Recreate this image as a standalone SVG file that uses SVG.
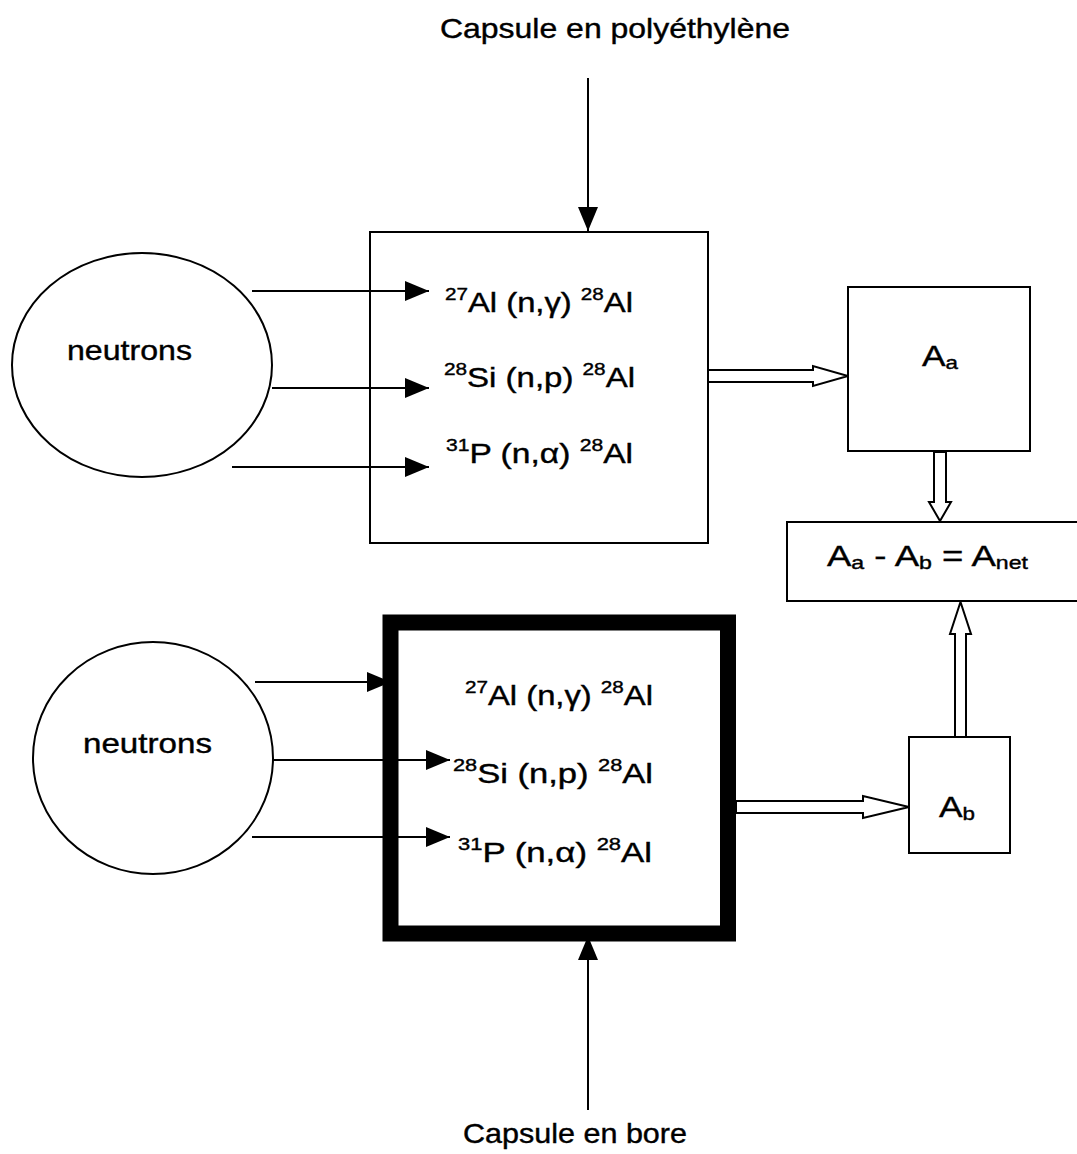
<svg xmlns="http://www.w3.org/2000/svg" width="1077" height="1154" viewBox="0 0 1077 1154">
<style>
text{font-family:"Liberation Sans",Arial,sans-serif;fill:#000;stroke:#000;stroke-width:0.4}
.t{font-size:28px}
.rx{font-size:27px}
.sup{font-size:17px}
.sub{font-size:19px}
.big{font-size:30px}
.box{fill:#fff;stroke:#000;stroke-width:2}
.thick{fill:#fff;stroke:#000;stroke-width:16}
.ell{fill:#fff;stroke:#000;stroke-width:2}
.ln{fill:none;stroke:#000;stroke-width:2;marker-end:url(#ah)}
.hol{fill:#fff;stroke:#000;stroke-width:2;stroke-linejoin:miter}
</style>
<defs>
<marker id="ah" markerUnits="userSpaceOnUse" markerWidth="24" markerHeight="20" refX="24" refY="10" orient="auto">
<path d="M0,0 L24,10 L0,20 z" fill="#000"/>
</marker>
</defs>
<rect width="1077" height="1154" fill="#fff"/>

<g id="title-top"><text class="t" x="440" y="38" textLength="350" lengthAdjust="spacingAndGlyphs">Capsule en polyéthylène</text></g>
<g id="title-bottom"><text class="t" x="463" y="1143" textLength="224" lengthAdjust="spacingAndGlyphs">Capsule en bore</text></g>

<g id="neutrons-top"><ellipse class="ell" cx="142" cy="365" rx="130" ry="112"/>
<text class="t" x="67" y="360" textLength="125" lengthAdjust="spacingAndGlyphs">neutrons</text></g>

<g id="neutrons-bottom"><ellipse class="ell" cx="153" cy="758" rx="120" ry="116"/>
<text class="t" x="83" y="753" textLength="129" lengthAdjust="spacingAndGlyphs">neutrons</text></g>

<g id="capsule-poly"><rect class="box" x="370" y="232" width="338" height="311"/></g>
<g id="capsule-bore"><rect class="thick" x="390.5" y="622.5" width="337.5" height="311"/></g>

<g id="connectors">
<line class="ln" x1="588" y1="78" x2="588" y2="231"/>
<line class="ln" x1="252" y1="291" x2="429" y2="291"/>
<line class="ln" x1="272" y1="388" x2="429" y2="388"/>
<line class="ln" x1="232" y1="467" x2="429" y2="467"/>
<line class="ln" x1="255" y1="682" x2="391" y2="682"/>
<line class="ln" x1="272" y1="760" x2="450" y2="760"/>
<line class="ln" x1="252" y1="837" x2="450" y2="837"/>
<line class="ln" x1="588" y1="1110" x2="588" y2="936"/>
<polygon class="hol" points="708,370 813,370 813,366 848,376 813,386 813,382 708,382"/>
<polygon class="hol" points="736,801 863,801 863,796 909,807 863,818 863,813 736,813"/>
<polygon class="hol" points="934,452 946,452 946,502 951,502 940,521 929,502 934,502"/>
<polygon class="hol" points="955,737 955,634 950,634 960.5,602 971,634 966,634 966,737"/>
</g>

<g id="reactions-top">
<text class="rx" x="445" y="312" textLength="188" lengthAdjust="spacingAndGlyphs"><tspan class="sup" dy="-12">27</tspan><tspan dy="12">Al (n,γ) </tspan><tspan class="sup" dy="-12">28</tspan><tspan dy="12">Al</tspan></text>
<text class="rx" x="444" y="387" textLength="191" lengthAdjust="spacingAndGlyphs"><tspan class="sup" dy="-12">28</tspan><tspan dy="12">Si (n,p) </tspan><tspan class="sup" dy="-12">28</tspan><tspan dy="12">Al</tspan></text>
<text class="rx" x="446" y="463" textLength="187" lengthAdjust="spacingAndGlyphs"><tspan class="sup" dy="-12">31</tspan><tspan dy="12">P (n,α) </tspan><tspan class="sup" dy="-12">28</tspan><tspan dy="12">Al</tspan></text>
</g>

<g id="reactions-bottom">
<text class="rx" x="465" y="705" textLength="188" lengthAdjust="spacingAndGlyphs"><tspan class="sup" dy="-12">27</tspan><tspan dy="12">Al (n,γ) </tspan><tspan class="sup" dy="-12">28</tspan><tspan dy="12">Al</tspan></text>
<text class="rx" x="453" y="783" textLength="200" lengthAdjust="spacingAndGlyphs"><tspan class="sup" dy="-12">28</tspan><tspan dy="12">Si (n,p) </tspan><tspan class="sup" dy="-12">28</tspan><tspan dy="12">Al</tspan></text>
<text class="rx" x="458" y="862" textLength="194" lengthAdjust="spacingAndGlyphs"><tspan class="sup" dy="-12">31</tspan><tspan dy="12">P (n,α) </tspan><tspan class="sup" dy="-12">28</tspan><tspan dy="12">Al</tspan></text>
</g>

<g id="Aa"><rect class="box" x="848" y="287" width="182" height="164"/>
<text class="big" x="922" y="366" textLength="36" lengthAdjust="spacingAndGlyphs">A<tspan class="sub" dy="3">a</tspan></text></g>

<g id="Ab"><rect class="box" x="909" y="737" width="101" height="116"/>
<text class="big" x="939" y="817" textLength="36" lengthAdjust="spacingAndGlyphs">A<tspan class="sub" dy="3">b</tspan></text></g>

<g id="Anet"><rect class="box" x="787" y="522" width="300" height="79"/>
<text class="big" x="827" y="566" textLength="201" lengthAdjust="spacingAndGlyphs">A<tspan class="sub" dy="3">a</tspan><tspan dy="-3"> - A</tspan><tspan class="sub" dy="3">b</tspan><tspan dy="-3"> =  A</tspan><tspan class="sub" dy="3">net</tspan></text></g>
</svg>
